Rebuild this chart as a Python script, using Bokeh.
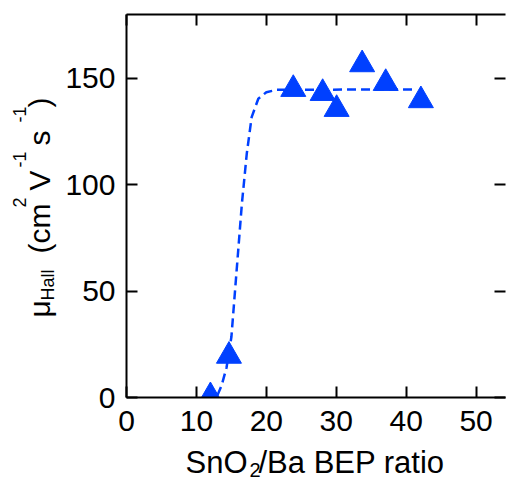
import math
from bokeh.plotting import figure
from bokeh.layouts import row, column
from bokeh.models import Range1d, LinearAxis, FixedTicker, CustomJSTickFormatter
from bokeh.core.properties import value
from bokeh.embed import file_html
from bokeh.resources import INLINE

# ---- data ----
ratio = [12.0, 14.65, 23.85, 28.05, 30.05, 33.7, 37.07, 42.1]
mobility = [0.5, 19.5, 144.9, 143.0, 135.5, 156.5, 147.7, 139.6]
fit_ratio = [13.0, 13.6, 14.3, 15.0, 15.75, 16.5, 17.2, 17.9, 18.85, 20.0, 21.5, 41.5]
fit_mobility = [1.0, 5.6, 14.0, 28.4, 59.7, 91.0, 114.6, 131.8, 140.4, 143.5, 144.6, 144.8]
x_ticks = [0, 10, 20, 30, 40, 50]
y_ticks = [0, 50, 100, 150]

# ---- layout ----
W, H = 507, 481
YLAB_W = 60          # strip holding the y title
XLAB_H = 37          # strip holding the x title
MAIN_W, MAIN_H = W - YLAB_W, H - XLAB_H
LEFT, RIGHT, TOP, BOTTOM = 66, 2, 14, 47
XMAX, YMAX = 54.2, 180
FONT = "Liberation Sans"
BLUE = "#0040FF"
BASE_OFF = 0.38      # empirical baseline offset of the text glyph, in em

p = figure(width=MAIN_W, height=MAIN_H, x_range=Range1d(0, XMAX), y_range=Range1d(0, YMAX),
           output_backend="svg", toolbar_location=None,
           min_border_left=LEFT, min_border_right=RIGHT,
           min_border_top=TOP, min_border_bottom=BOTTOM)
p.outline_line_color = None
p.grid.visible = False
p.background_fill_color = "white"
p.border_fill_color = "white"


def style(ax, ticks, labels=True):
    ax.ticker = FixedTicker(ticks=ticks)
    ax.major_tick_in = 11
    ax.major_tick_out = 0
    ax.minor_tick_line_color = None
    ax.axis_line_width = 2
    ax.major_tick_line_width = 2
    ax.axis_line_color = "black"
    ax.major_tick_line_color = "black"
    if labels:
        ax.major_label_text_font = FONT
        ax.major_label_text_font_size = "30px"
        ax.major_label_text_color = "black"
    else:
        ax.formatter = CustomJSTickFormatter(code="return ''")
        ax.major_label_text_font_size = "1px"
        ax.major_label_standoff = 0


style(p.xaxis[0], x_ticks)
p.xaxis[0].major_label_standoff = 13
style(p.yaxis[0], y_ticks)
p.yaxis[0].major_label_standoff = 11

top_ax = LinearAxis()
style(top_ax, x_ticks, labels=False)
p.add_layout(top_ax, "above")

right_ax = LinearAxis()
style(right_ax, y_ticks, labels=False)
right_ax.axis_line_color = None
p.add_layout(right_ax, "right")

p.line(fit_ratio, fit_mobility, line_color=BLUE, line_width=2.5, line_dash="9 5")
p.scatter(ratio, mobility, marker="triangle", size=25, fill_color=BLUE, line_color=BLUE)


# ---- strips holding the axis titles; data coords = page pixels (y negated) ----
def strip(w, h, x0, y_top, y_bottom, b_top=0, b_bottom=0):
    f = figure(width=w, height=h,
               x_range=Range1d(x0, x0 + w),
               y_range=Range1d(-y_bottom, -y_top),
               output_backend="svg", toolbar_location=None,
               x_axis_type=None, y_axis_type=None,
               min_border_left=0, min_border_right=0,
               min_border_top=b_top, min_border_bottom=b_bottom)
    f.outline_line_color = None
    f.grid.visible = False
    f.background_fill_color = "white"
    f.border_fill_color = "white"
    return f


def put(f, items, size, rotated=False):
    # items: (text, x px, baseline px) in page pixels
    off = BASE_OFF * size
    if rotated:
        xs = [it[1] - off for it in items]
        ys = [-it[2] for it in items]
        ang = math.pi / 2
    else:
        xs = [it[1] for it in items]
        ys = [-(it[2] - off) for it in items]
        ang = 0.0
    f.text(x=xs, y=ys, text=[it[0] for it in items], angle=ang,
           text_font=value(FONT), text_font_size=value(f"{size}px"),
           text_color="black", text_align="left", text_baseline="alphabetic")


# y title: μHall (cm2V-1s-1), rotated (baseline x, start y)
yf = strip(YLAB_W, MAIN_H, 0, TOP, MAIN_H - BOTTOM, TOP, BOTTOM)
put(yf, [("μ", 50, 317), ("(cm", 50, 253), ("V", 50, 190), ("s", 50, 145), (")", 50, 107)], 30, True)
put(yf, [("Hall", 54, 300)], 18, True)
put(yf, [("2", 26, 207), ("-1", 26, 167), ("-1", 26, 122)], 18, True)

# x title: SnO2/Ba BEP ratio
xf = strip(W, XLAB_H, 0, MAIN_H, H)
put(xf, [("SnO", 185, 474), ("/Ba BEP ratio", 258, 474)], 31)
put(xf, [("2", 249, 477)], 20)

layout = column(row(yf, p, spacing=0), xf, spacing=0)

open("out.html", "w").write(file_html(layout, INLINE))
